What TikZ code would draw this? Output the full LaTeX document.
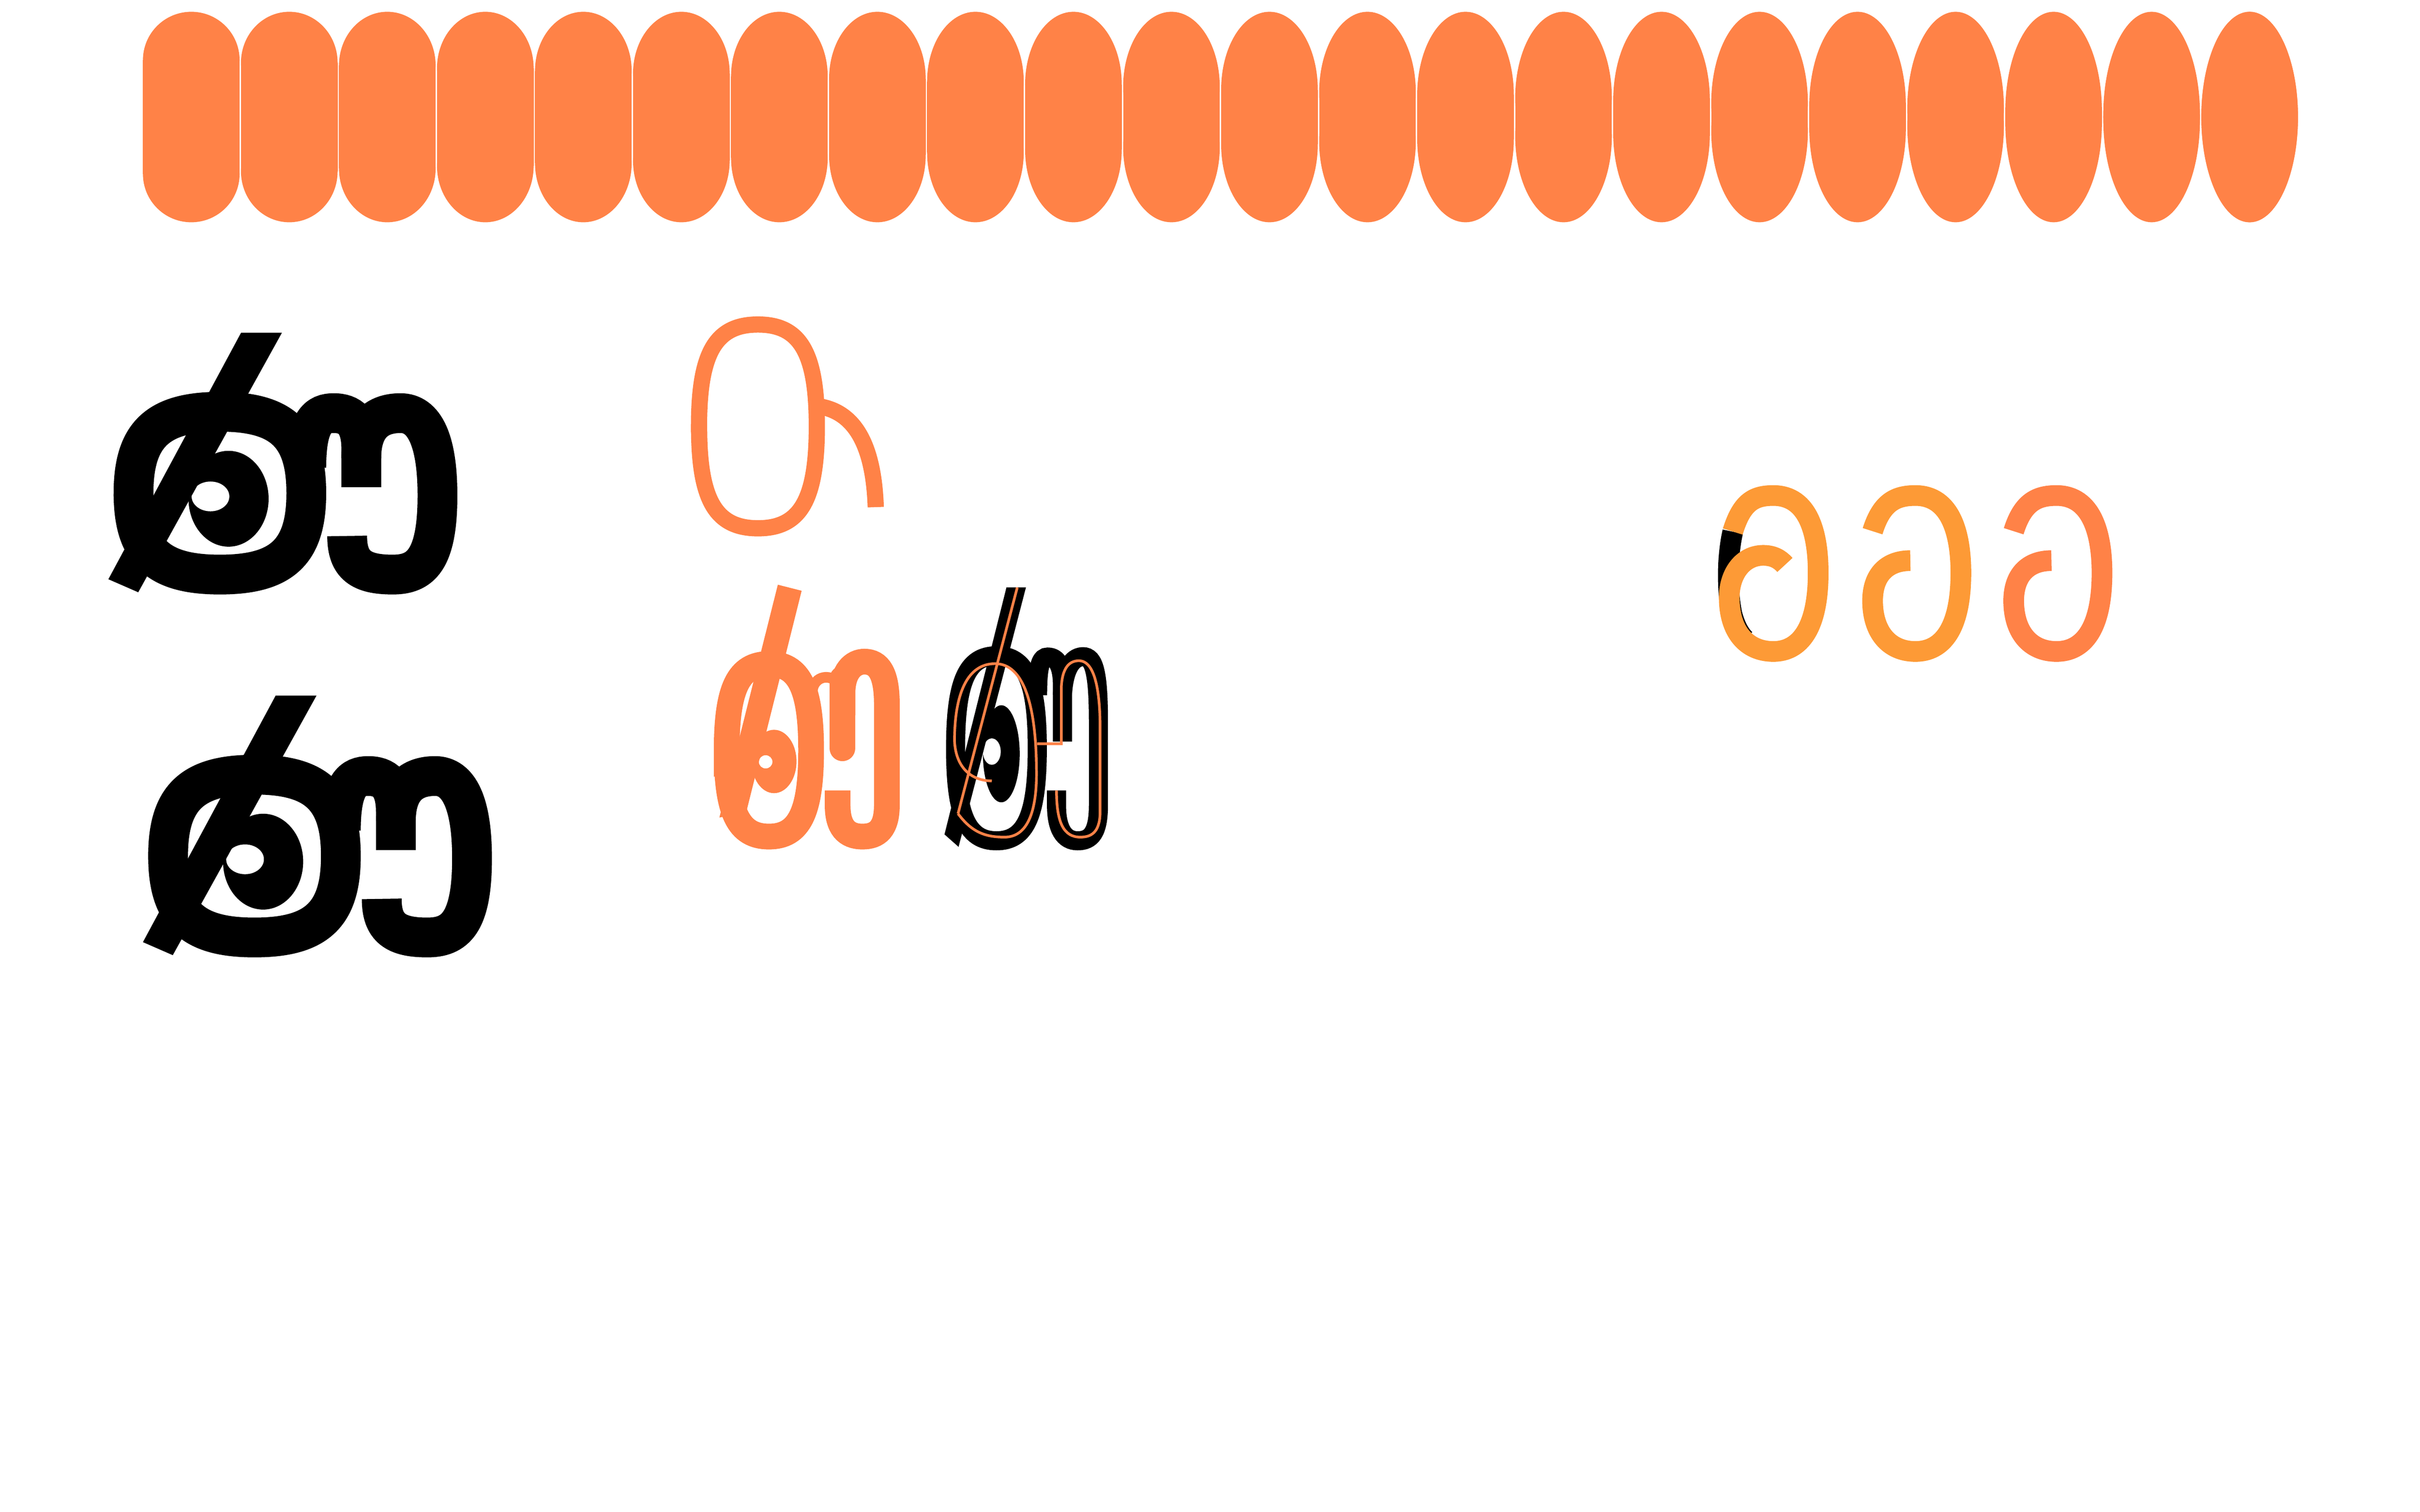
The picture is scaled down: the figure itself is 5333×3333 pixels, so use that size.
\documentclass[tikz,border=0pt]{standalone}
\definecolor{coral}{HTML}{FF8247}
\definecolor{amber}{HTML}{FD9A36}
\tikzset{
  heavyblack/.style={draw=black,line width=7.5pt},
  ringstroke/.style={draw=coral,line width=3.06pt},
  thickcoral/.style={draw=coral,line width=4.85pt},
  midblack/.style={draw=black,line width=3.6pt},
  hairline/.style={draw=coral,line width=0.5pt},
  curlstroke/.style={line width=3.9pt},
}
\newcommand\superloop[5]{%
  \pgfmathsetmacro\slL{#2-#4}\pgfmathsetmacro\slR{#2+#4}%
  \pgfmathsetmacro\slT{#3-#5}\pgfmathsetmacro\slB{#3+#5}%
  \pgfmathsetmacro\slxa{#2-0.72*#4}\pgfmathsetmacro\slxb{#2+0.72*#4}%
  \pgfmathsetmacro\slya{#3-0.72*#5}\pgfmathsetmacro\slyb{#3+0.72*#5}%
  \draw[#1] (\slL,#3) .. controls (\slL,\slya) and (\slxa,\slT) .. (#2,\slT)
    .. controls (\slxb,\slT) and (\slR,\slya) .. (\slR,#3)
    .. controls (\slR,\slyb) and (\slxb,\slB) .. (#2,\slB)
    .. controls (\slxa,\slB) and (\slL,\slyb) .. cycle;}
\newcommand\drawkshaglyph{%
  \superloop{heavyblack}{280}{475}{110}{175}
  \draw[heavyblack] (390,420) .. controls (390,320) and (405,303) .. (425,303)
        .. controls (445,303) and (460,320) .. (460,380) -- (460,462);
  \draw[heavyblack] (460,400) .. controls (460,330) and (480,303) .. (510,303)
        .. controls (540,303) and (557,360) .. (557,480)
        .. controls (557,620) and (535,650) .. (500,650)
        .. controls (460,650) and (442,630) .. (442,567);
  \fill[black] (291,487) ellipse[x radius=51,y radius=103];
  \fill[white] (268,482) ellipse[x radius=24,y radius=32];
  \fill[black] (307,130) -- (359,130) -- (176,688) -- (138,660) -- cycle;
}
\newcommand\drawcurlglyph[1]{%
  \draw[curlstroke,#1] (1046,485) .. controls (1075,300) and (1120,262) .. (1180,262)
     .. controls (1290,262) and (1322,500) .. (1322,745)
     .. controls (1322,1100) and (1262,1237) .. (1180,1237)
     .. controls (1095,1237) and (1046,1110) .. (1046,920)
     .. controls (1046,760) and (1090,669) .. (1164,669);
}
\begin{document}
\begin{tikzpicture}[x=0.003cm,y=-0.003cm]
\useasboundingbox (0,0) rectangle (5333,3333);
% top row of rounded bars
\foreach \i in {0,...,21} {
  \pgfmathsetmacro\xl{315+216*\i}
  \pgfmathsetmacro\ry{106.5+125.5*\i/21}
  \fill[coral] (\xl+106.5,26+\ry) ellipse[x radius=106.5,y radius=\ry];
  \fill[coral] (\xl+106.5,490-\ry) ellipse[x radius=106.5,y radius=\ry];
  \fill[coral] (\xl,26+\ry) rectangle (\xl+213,490-\ry);
}
% left column: two heavy black glyphs, and the ring glyph
\begin{scope}[shift={(0,600)},xscale=1.7308,yscale=1.0256]
  \drawkshaglyph
  \begin{scope}[shift={(44,780)}]
    \drawkshaglyph
  \end{scope}
  \superloop{ringstroke}{965}{331.5}{75}{219}
  \draw[ringstroke] (1035,287) .. controls (1080,292) and (1112,350) .. (1115,505);
\end{scope}
% middle pair
\begin{scope}[shift={(1540,1270)},xscale=0.5962,yscale=0.4038]
  % orange heavy glyph
  \superloop{thickcoral}{259}{951}{156}{471}
  \draw[coral,line width=2pt] (420,620) .. controls (430,530) and (510,530) .. (525,620);
  \draw[thickcoral,line cap=round] (531,560) -- (531,940);
  \draw[thickcoral] (531,760) -- (531,640) .. controls (531,520) and (570,467) .. (612,467)
     .. controls (665,467) and (695,530) .. (695,700) -- (695,1250)
     .. controls (695,1380) and (660,1422) .. (605,1422)
     .. controls (545,1422) and (513,1370) .. (513,1250) -- (513,1170);
  \fill[coral] (278,1012) ellipse[x radius=83,y radius=173];
  \fill[white] (247,1014) ellipse[x radius=25,y radius=36];
  \fill[coral] (292,47) -- (380,80) -- (175,1290) -- (76,1318) -- cycle;
  % black glyph with thin orange outline
  \superloop{midblack}{1100}{940}{151}{505}
  \draw[midblack] (1252,650) .. controls (1252,480) and (1265,442) .. (1290,442)
     .. controls (1325,442) and (1344,490) .. (1344,600) -- (1344,903);
  \draw[midblack] (1344,650) .. controls (1350,480) and (1390,440) .. (1420,440)
     .. controls (1460,440) and (1477,520) .. (1477,800) -- (1477,1250)
     .. controls (1477,1400) and (1450,1445) .. (1400,1445)
     .. controls (1350,1445) and (1322,1380) .. (1322,1250) -- (1322,1170);
  \fill[black] (1118,970) ellipse[x radius=68,y radius=265];
  \fill[white] (1083,958) ellipse[x radius=33,y radius=72];
  \fill[black] (1137,62) -- (1209,62) -- (960,1478) -- (908,1410) -- cycle;
  \draw[hairline] (1177,62) -- (958,1297);
  \draw[hairline] (958,1297) .. controls (1010,1400) and (1060,1425) .. (1130,1425)
     .. controls (1200,1425) and (1245,1330) .. (1248,1100)
     .. controls (1250,700) and (1200,478) .. (1095,478)
     .. controls (990,478) and (945,650) .. (945,900)
     .. controls (950,1050) and (1010,1118) .. (1083,1118);
  \draw[hairline] (1250,915) -- (1340,915) -- (1340,600)
     .. controls (1345,480) and (1380,462) .. (1405,462)
     .. controls (1440,462) and (1480,520) .. (1483,800) -- (1483,1300)
     .. controls (1480,1400) and (1450,1425) .. (1410,1425)
     .. controls (1350,1425) and (1322,1350) .. (1322,1170);
\end{scope}
% right group of three curls
\begin{scope}[shift={(3700,1000)},xscale=0.7051,yscale=0.3526]
  \draw[curlstroke,draw=black] (168,488) .. controls (150,650) and (150,850) .. (165,1000)
     .. controls (175,1080) and (190,1130) .. (205,1160);
  \draw[curlstroke,draw=amber] (168,487) .. controls (197,300) and (235,262) .. (295,262)
     .. controls (405,262) and (435,500) .. (435,745)
     .. controls (435,1100) and (375,1237) .. (295,1237)
     .. controls (210,1237) and (157,1110) .. (157,900)
     .. controls (157,750) and (200,636) .. (263,636)
     .. controls (295,636) and (315,660) .. (331,696);
  \begin{scope}[shift={(-441,0)}]
    \drawcurlglyph{draw=amber}
  \end{scope}
  \drawcurlglyph{draw=coral}
\end{scope}
\end{tikzpicture}
\end{document}
